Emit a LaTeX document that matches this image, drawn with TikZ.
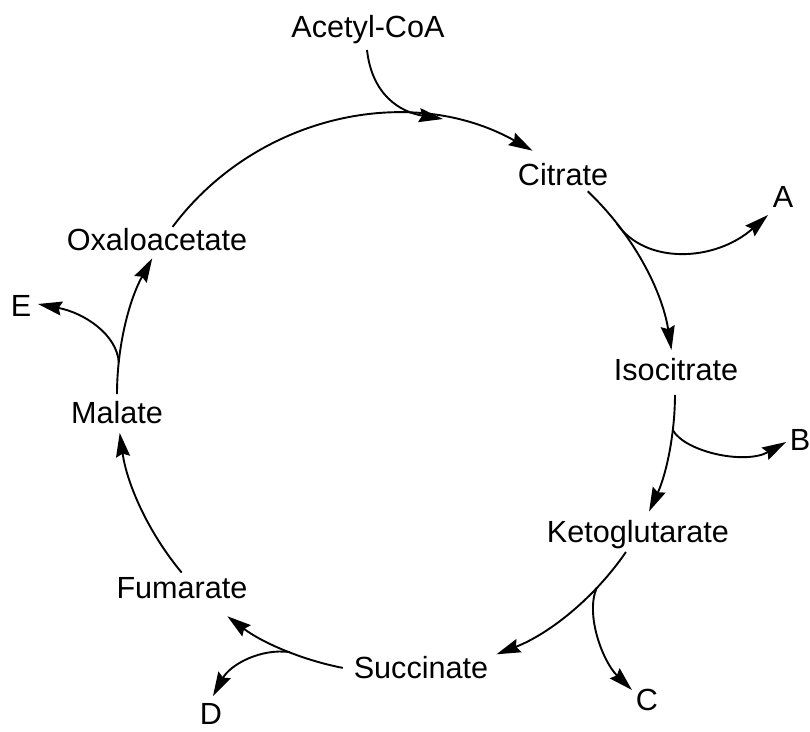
\documentclass[tikz,border=0pt]{standalone}
\usepackage{fontspec}
\setmainfont{Liberation Sans}
\usetikzlibrary{arrows.meta,calc}
\begin{document}
\begin{tikzpicture}[x=1pt,y=-1pt,
  lbl/.style={anchor=base, inner sep=0pt, font=\fontsize{30.6}{36}\selectfont},
  flow/.style={line width=1.9pt, -{Stealth[length=24pt,width=14pt,inset=3pt]}}]
\useasboundingbox (0,0) rectangle (810,731);
\fill[white] (0,0) rectangle (810,731);
\def\R{279}
\coordinate (O) at (396,394);
% labels
\node[lbl] (acoa) at (368,37) {Acetyl-CoA};
\node[lbl] (cit) at (563,185) {Citrate};
\node[lbl] (A) at (783,207) {A};
\node[lbl] (iso) at (676,380) {Isocitrate};
\node[lbl] (B) at (800,450) {B};
\node[lbl] (keto) at (638,542) {Ketoglutarate};
\node[lbl] (C) at (647,710) {C};
\node[lbl] (succ) at (421,678) {Succinate};
\node[lbl] (D) at (211,724) {D};
\node[lbl] (fum) at (182,598) {Fumarate};
\node[lbl] (mal) at (117,423) {Malate};
\node[lbl] (E) at (21,316) {E};
\node[lbl] (oxa) at (157,250) {Oxaloacetate};
% arc start points
\coordinate (s1) at ($(O)+(216.8:\R)$);
\coordinate (s2) at ($(O)+(313.4:\R)$);
\coordinate (s3) at ($(O)+(0.2:\R)$);
\coordinate (s4) at ($(O)+(34.5:\R)$);
\coordinate (s5) at ($(O)+(101:\R)$);
\coordinate (s6) at ($(O)+(140.2:\R)$);
\coordinate (s7) at ($(O)+(180:\R)$);
% main cycle
\draw[flow] (s1) arc[start angle=216.8, end angle=299.3, radius=\R];
\draw[flow] (s2) arc[start angle=313.4, end angle=350.9, radius=\R];
\draw[flow] (s3) arc[start angle=0.2, end angle=24.9, radius=\R];
\draw[flow] (s4) arc[start angle=34.5, end angle=68.9, radius=\R];
\draw[flow] (s5) arc[start angle=101, end angle=127.2, radius=\R];
\draw[flow] (s6) arc[start angle=140.2, end angle=172, radius=\R];
\draw[flow] (s7) arc[start angle=180, end angle=209.1, radius=\R];
% branch points
\coordinate (bA) at ($(O)+(322.3:\R)$);
\coordinate (bB) at ($(O)+(7.4:\R)$);
\coordinate (bC) at ($(O)+(44:\R)$);
\coordinate (bD) at ($(O)+(112.3:\R)$);
\coordinate (bE) at ($(O)+(186.5:\R)$);
\coordinate (inAc) at ($(O)+(279.7:\R)$);
\coordinate (tA) at (768,215);
\coordinate (tB) at (786,442);
\coordinate (tC) at (632,690);
\coordinate (tD) at (213,696);
\coordinate (tE) at (38,304);
\coordinate (sAc) at (367,50);
% branches
\draw[flow] (sAc) .. controls (372,95) and (400,112) .. (inAc);
\draw[flow] (bA) .. controls (645,265) and (715,262) .. (tA);
\draw[flow] (bB) .. controls (685,452) and (745,465) .. (tB);
\draw[flow] (bC) .. controls (585,615) and (603,662) .. (tC);
\draw[flow] (bD) .. controls (260,648) and (230,665) .. (tD);
\draw[flow] (bE) .. controls (117,335) and (85,313) .. (tE);
\end{tikzpicture}
\end{document}
